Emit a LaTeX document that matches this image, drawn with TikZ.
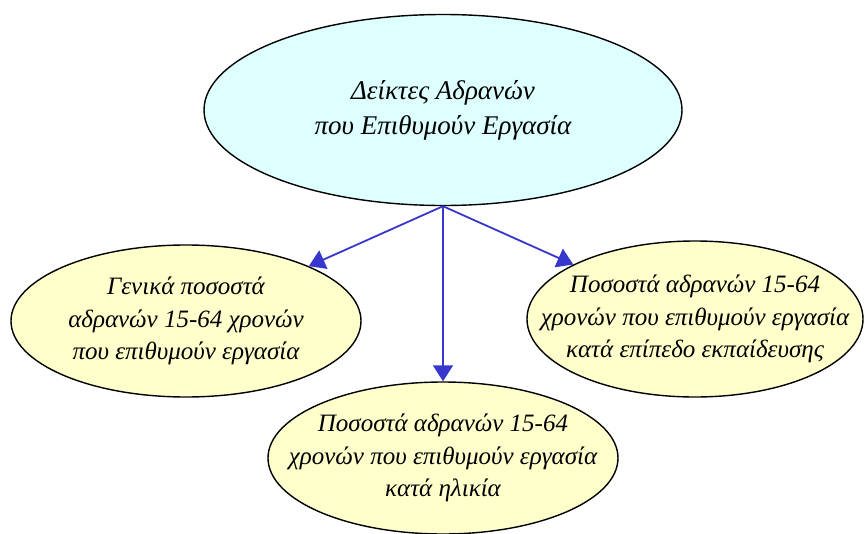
\documentclass[tikz,border=0pt]{standalone}
\usepackage{fontspec}
\setmainfont{Liberation Serif}
\usetikzlibrary{shapes.geometric,arrows.meta}
\definecolor{topfill}{HTML}{DDFFFF}
\definecolor{subfill}{HTML}{FFFFCC}
\definecolor{arrowblue}{HTML}{3737CD}
\tikzset{
  bubble/.style={ellipse, draw=black, line width=1.4pt, inner sep=0pt, fill=subfill},
  topbubble/.style={bubble, fill=topfill},
  btext/.style={align=center, inner sep=0pt, font=\itshape\fontsize{25}{32.5}\selectfont},
  toptext/.style={btext, font=\itshape\fontsize{27}{35}\selectfont},
  link/.style={draw=arrowblue, line width=1.8pt, -{Triangle[length=16pt,width=20pt]}}
}
\begin{document}
\begin{tikzpicture}[x=1pt,y=-1pt]
\useasboundingbox (0,0) rectangle (865,533);
\node[topbubble, minimum width=478pt, minimum height=191pt] (top) at (443,110) {};
\node[toptext] (topt) at (top.center) {Δείκτες Αδρανών\\που Επιθυμούν Εργασία};
\node[bubble, minimum width=350pt, minimum height=152pt] (left) at (186,321) {};
\node[btext] (leftt) at (left.center) {Γενικά ποσοστά\\αδρανών 15-64 χρονών\\ που επιθυμούν εργασία};
\node[bubble, minimum width=336pt, minimum height=156pt] (right) at (695,319) {};
\node[btext] (rightt) at (right.center) {Ποσοστά αδρανών 15-64\\χρονών που επιθυμούν εργασία\\κατά επίπεδο εκπαίδευσης};
\node[bubble, minimum width=350pt, minimum height=152pt] (bottom) at (443,458) {};
\node[btext] (bottomt) at (bottom.center) {Ποσοστά αδρανών 15-64\\χρονών που επιθυμούν εργασία\\κατά ηλικία};
\draw[link] (top.south) -- (left);
\draw[link] (top.south) -- (bottom);
\draw[link] (top.south) -- (right);
\end{tikzpicture}
\end{document}
